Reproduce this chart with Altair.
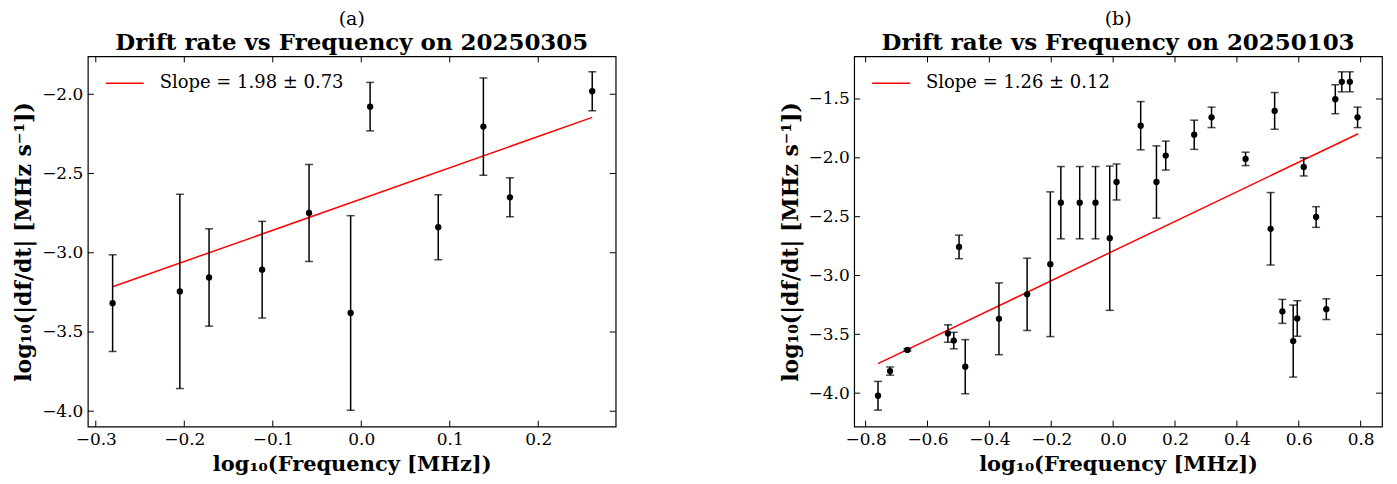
import altair as alt
import pandas as pd

FONT = "DejaVu Serif"

# Panel (a)
A_X = [-0.281, -0.205, -0.172, -0.112, -0.059, -0.012, 0.010, 0.087, 0.138, 0.168, 0.261]
A_Y = [-3.318, -3.244, -3.156, -3.107, -2.749, -3.380, -2.078, -2.839, -2.204, -2.650, -1.981]
A_ERR = [0.305, 0.613, 0.307, 0.305, 0.306, 0.614, 0.153, 0.205, 0.307, 0.123, 0.123]
A_FIT_X = [-0.281, 0.261]
A_FIT_Y = [-3.215, -2.146]
A_XTICKS = [-0.3, -0.2, -0.1, 0.0, 0.1, 0.2]
A_YTICKS = [-4.0, -3.5, -3.0, -2.5, -2.0]
A_XDOM = [-0.309, 0.2875]
A_YDOM = [-4.097, -1.761]
A_LABEL = "Slope = 1.98 ± 0.73"
A_TITLE = "Drift rate vs Frequency on 20250305"

# Panel (b)
B_X = [-0.760, -0.721, -0.665, -0.534, -0.515, -0.498, -0.478, -0.369, -0.278, -0.203,
       -0.169, -0.108, -0.057, -0.011, 0.011, 0.089, 0.140, 0.170, 0.262, 0.318,
       0.428, 0.509, 0.522, 0.547, 0.582, 0.595, 0.616, 0.656, 0.689, 0.718,
       0.739, 0.765, 0.790]
B_Y = [-4.022, -3.812, -3.632, -3.493, -3.553, -2.757, -3.775, -3.368, -3.160, -2.904,
       -2.381, -2.381, -2.381, -2.683, -2.205, -1.727, -2.205, -1.981, -1.804, -1.656,
       -2.009, -2.603, -1.601, -3.305, -3.557, -3.365, -2.077, -2.503, -3.286, -1.502,
       -1.354, -1.354, -1.656]
B_ERR = [0.122, 0.035, 0.010, 0.074, 0.070, 0.100, 0.230, 0.305, 0.307, 0.615,
         0.307, 0.307, 0.307, 0.613, 0.153, 0.205, 0.307, 0.123, 0.124, 0.087,
         0.057, 0.308, 0.156, 0.102, 0.306, 0.151, 0.077, 0.088, 0.088, 0.123,
         0.085, 0.085, 0.087]
B_FIT_X = [-0.760, 0.792]
B_FIT_Y = [-3.749, -1.795]
B_XTICKS = [-0.8, -0.6, -0.4, -0.2, 0.0, 0.2, 0.4, 0.6, 0.8]
B_YTICKS = [-4.0, -3.5, -3.0, -2.5, -2.0, -1.5]
B_XDOM = [-0.837, 0.869]
B_YDOM = [-4.284, -1.138]
B_LABEL = "Slope = 1.26 ± 0.12"
B_TITLE = "Drift rate vs Frequency on 20250103"

X_TITLE = "log₁₀(Frequency [MHz])"
Y_TITLE = "log₁₀(|df/dt| [MHz s⁻¹])"

W, H = 529, 371
TICK = 6


def label_axis(orient, vals, title, size):
    return alt.Axis(orient=orient, values=vals, labels=True, domain=False, grid=False,
                    ticks=False, format=".1f", labelPadding=5, title=title,
                    titlePadding=6, titleFontSize=size)


def panel(x, y, err, fx, fy, label, letter, title, xdom, ydom, xticks, yticks):
    pts = pd.DataFrame({
        "x": x, "y": y,
        "lo": [a - b for a, b in zip(y, err)],
        "hi": [a + b for a, b in zip(y, err)],
    })
    fit = pd.DataFrame({"x": fx, "y": fy, "series": [label] * len(fx)})
    xt = pd.DataFrame({"v": xticks})
    yt = pd.DataFrame({"v": yticks})
    xs = alt.Scale(domain=xdom, nice=False, zero=False)
    ys = alt.Scale(domain=ydom, nice=False, zero=False)
    xa = label_axis("bottom", xticks, X_TITLE, 21)
    ya = label_axis("left", yticks, Y_TITLE, 22)

    # inward tick marks on all four sides, placed through the scales
    tb = alt.Chart(xt).mark_rule(color="black", strokeWidth=1).encode(
        x=alt.X("v:Q", scale=xs, axis=xa), y=alt.value(H), y2=alt.value(H - TICK))
    tt = alt.Chart(xt).mark_rule(color="black", strokeWidth=1).encode(
        x=alt.X("v:Q", scale=xs, axis=xa), y=alt.value(0), y2=alt.value(TICK))
    tl = alt.Chart(yt).mark_rule(color="black", strokeWidth=1).encode(
        y=alt.Y("v:Q", scale=ys, axis=ya), x=alt.value(0), x2=alt.value(TICK))
    tr = alt.Chart(yt).mark_rule(color="black", strokeWidth=1).encode(
        y=alt.Y("v:Q", scale=ys, axis=ya), x=alt.value(W), x2=alt.value(W - TICK))

    line = alt.Chart(fit).mark_line(strokeWidth=1.5).encode(
        x=alt.X("x:Q", scale=xs, axis=xa),
        y=alt.Y("y:Q", scale=ys, axis=ya),
        color=alt.Color("series:N",
                        scale=alt.Scale(domain=[label], range=["red"]),
                        legend=alt.Legend(title=None, orient="none", legendX=17, legendY=7,
                                          symbolType="stroke", symbolSize=1444,
                                          symbolStrokeWidth=1.5, labelOffset=15,
                                          labelLimit=0,
                                          labelFont=FONT, labelFontSize=18,
                                          labelColor="black", padding=0)),
    )
    bars = alt.Chart(pts).mark_errorbar(ticks={"size": 8}, thickness=1.5, color="black").encode(
        x=alt.X("x:Q", scale=xs, axis=xa),
        y=alt.Y("lo:Q", scale=ys, axis=ya),
        y2="hi:Q",
    )
    dots = alt.Chart(pts).mark_circle(size=40, color="black", opacity=1).encode(
        x=alt.X("x:Q", scale=xs, axis=xa),
        y=alt.Y("y:Q", scale=ys, axis=ya),
    )
    return alt.layer(tb, tt, tl, tr, line, bars, dots).properties(
        width=W, height=H,
        title=alt.TitleParams(text=letter, subtitle=title, font=FONT, fontSize=19,
                              fontWeight="normal", color="black",
                              subtitleFont=FONT, subtitleFontSize=23,
                              subtitleFontWeight="bold", subtitleColor="black",
                              anchor="middle", offset=1, subtitlePadding=3),
    )


left = panel(A_X, A_Y, A_ERR, A_FIT_X, A_FIT_Y, A_LABEL, "(a)", A_TITLE,
             A_XDOM, A_YDOM, A_XTICKS, A_YTICKS)
right = panel(B_X, B_Y, B_ERR, B_FIT_X, B_FIT_Y, B_LABEL, "(b)", B_TITLE,
              B_XDOM, B_YDOM, B_XTICKS, B_YTICKS)

chart = alt.hconcat(left, right, spacing=161).resolve_scale(
    color="independent"
).resolve_legend(
    color="independent"
).properties(
    padding={"left": 4, "top": 0, "right": 5, "bottom": 0}
).configure_view(
    stroke="black", strokeWidth=1.2
).configure_axis(
    labelFont=FONT, labelFontSize=17, labelColor="black",
    titleFont=FONT, titleFontWeight="bold", titleColor="black",
)

chart.save("out.html", embed_options={"renderer": "svg", "actions": False})
